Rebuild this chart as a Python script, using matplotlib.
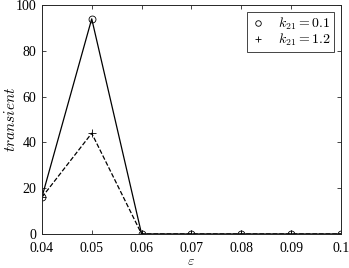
import matplotlib
matplotlib.use('Agg')
import matplotlib.pyplot as plt
from matplotlib.lines import Line2D

eps = [0.04, 0.05, 0.06, 0.07, 0.08, 0.09, 0.1]
transient_k01 = [16, 94, 0, 0, 0, 0, 0]
transient_k12 = [16, 44, 0, 0, 0, 0, 0]
xticks = [0.04, 0.05, 0.06, 0.07, 0.08, 0.09, 0.1]
xticklabels = ['0.04', '0.05', '0.06', '0.07', '0.08', '0.09', '0.1']
yticks = [0, 20, 40, 60, 80, 100]

plt.rcParams['font.family'] = ['Liberation Serif', 'DejaVu Serif']
plt.rcParams['mathtext.fontset'] = 'cm'

fig, ax = plt.subplots(figsize=(3.49, 2.68), dpi=100)
plt.subplots_adjust(left=0.12, right=0.977, bottom=0.127, top=0.981)

ax.plot(eps, transient_k01, '-', color='k', lw=0.9)
ax.plot(eps, transient_k12, '--', color='k', lw=0.9)
ax.plot(eps, transient_k01, 'o', color='k', mfc='none', ms=5, mew=0.6)
ax.plot(eps, transient_k12, '+', color='k', ms=6, mew=0.6)

ax.set_xlim(0.04, 0.1)
ax.set_ylim(0, 100)
ax.set_xticks(xticks)
ax.set_xticklabels(xticklabels)
ax.set_yticks(yticks)
ax.tick_params(direction='in', top=True, right=True, labelsize=10,
               length=3, width=0.6, color='#262626')
ax.tick_params(axis='x', pad=6)
ax.tick_params(axis='y', pad=4)
for s in ax.spines.values():
    s.set_color('#262626')
    s.set_linewidth(0.7)

ax.set_xlabel(r'$\varepsilon$', fontsize=10, labelpad=0)
ax.set_ylabel(r'$transient$', fontsize=11)
ax.yaxis.set_label_coords(-0.08, 0.5)

handles = [Line2D([], [], ls='none', marker='o', mfc='none', color='k', ms=4, mew=0.6),
           Line2D([], [], ls='none', marker='+', color='k', ms=5, mew=0.6)]
leg = ax.legend(handles, [r'$k_{21}=0.1$', r'$k_{21}=1.2$'], loc='upper right',
                fontsize=10, fancybox=False, edgecolor='#262626', framealpha=1,
                handlelength=1.2, borderaxespad=0.5, labelspacing=0.0, borderpad=0.25)
leg.get_frame().set_linewidth(0.6)

fig.savefig('out.png', dpi=100)
